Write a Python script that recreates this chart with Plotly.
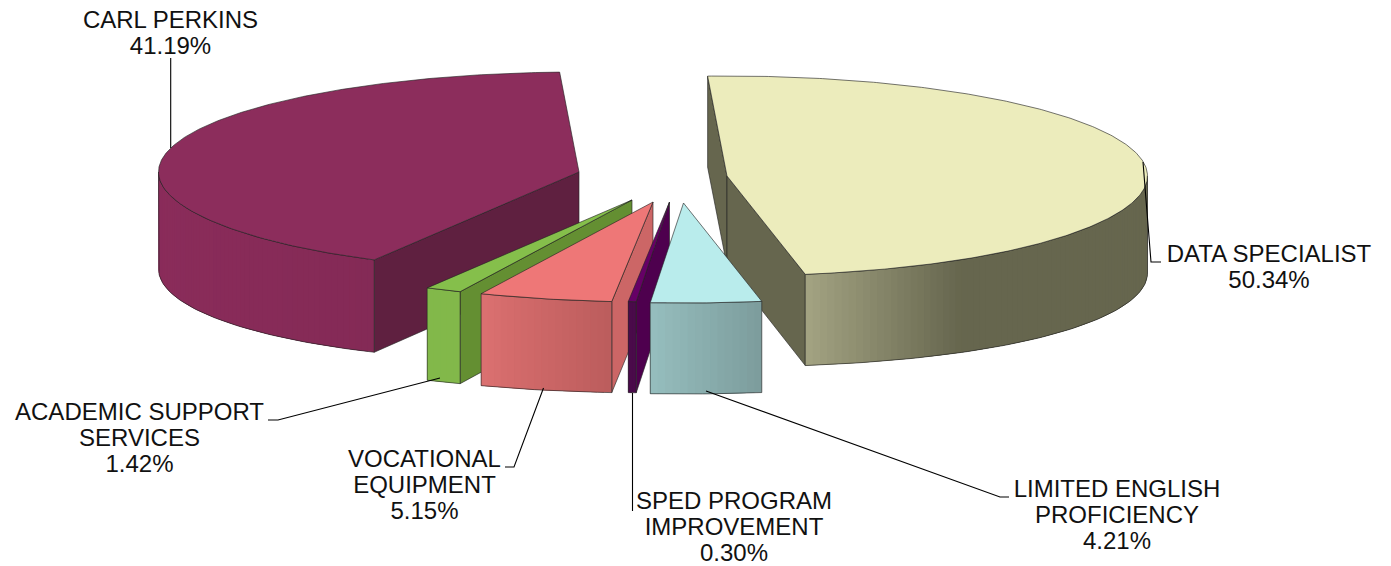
import math
import plotly.graph_objects as go

# ---- data (clockwise, starting at the far side of the pie) ----
names = ["DATA SPECIALIST", "LIMITED ENGLISH PROFICIENCY", "SPED PROGRAM IMPROVEMENT",
         "VOCATIONAL EQUIPMENT", "ACADEMIC SUPPORT SERVICES", "CARL PERKINS"]
values = [50.34, 4.21, 0.30, 5.15, 1.42, 41.19]
label_lines = [["DATA SPECIALIST"], ["LIMITED ENGLISH", "PROFICIENCY"], ["SPED PROGRAM", "IMPROVEMENT"],
               ["VOCATIONAL", "EQUIPMENT"], ["ACADEMIC SUPPORT", "SERVICES"], ["CARL PERKINS"]]

# ---- styling and layout of the exploded 3D pie ----
apex = [(727, 176), (683.5, 203), (669.5, 202), (653, 202), (632, 200), (579, 172)]
top_col = ["#ECECBC", "#B9ECEC", "#660066", "#EE7777", "#85BF4B", "#8C2D5C"]
cut_col = ["#66664E", "#7C9F9F", "#4E004E", "#CC6666", "#648F32", "#5F2040"]
side_left = ["#A3A382", "#96BEBE", "#4A0A4A", "#DB7070", "#82B84A", "#8A2C5A"]
side_right = ["#66664E", "#7C9C9C", "#4A0A4A", "#BB5C5C", "#82B84A", "#842A56"]
side_span = [(806, 960), None, None, None, None, None]
draw_order = [5, 0, 4, 3, 2, 1]
A, B = 420.5, 100
START = -7.0
EDGE = "rgba(35,35,35,0.7)"
FONT = dict(family="Liberation Sans, Arial, sans-serif", size=24, color="#111111")

label_pos = [(1269, 256), (1117, 491), (734, 503), (424.5, 461), (139.5, 414), (170.5, 22)]
LINE_H = 26.2
leaders = [[(1143, 162), (1151, 262), (1161, 262)],
           [(706, 391), (1000, 497), (1009, 497)],
           [(632.5, 393), (632.5, 511)],
           [(543.5, 388), (514, 467), (505, 467)],
           [(440, 378), (278, 420), (268, 420)],
           [(170.7, 148), (170.7, 58)]]

total = sum(values)
spans = []
a0 = START
for v in values:
    a1 = a0 + 360.0 * v / total
    spans.append((a0, a1))
    a0 = a1


def warp(t):
    return t + 4.7 * max(0.0, math.cos(math.radians(t))) ** 10


def rim(c, t):
    r = math.radians(warp(t))
    near = max(0.0, -math.cos(r)) ** 4
    return c[0] + A * math.sin(r) * (1 + 0.035 * near), c[1] - B * math.cos(r)


def depth(t):
    return 91 + 6 * math.sin(math.radians(t)) ** 2


def low(c, t):
    x, y = rim(c, t)
    return x, y + depth(t)


def hex_rgb(h):
    return [int(h[i:i + 2], 16) for i in (1, 3, 5)]


def mix(c1, c2, f):
    f = min(1.0, max(0.0, f))
    p, q = hex_rgb(c1), hex_rgb(c2)
    return "rgb(%d,%d,%d)" % tuple(round(p[i] + (q[i] - p[i]) * f) for i in range(3))


def poly(fig, pts, fill, line=EDGE, width=0.9):
    fig.add_trace(go.Scatter(x=[p[0] for p in pts] + [pts[0][0]], y=[p[1] for p in pts] + [pts[0][1]],
                             mode="lines", fill="toself", fillcolor=fill,
                             line=dict(color=line, width=width), hoverinfo="skip", showlegend=False))


def frange(a, b, step):
    n = max(1, int(math.ceil(abs(b - a) / step)))
    return [a + (b - a) * i / n for i in range(n + 1)]


fig = go.Figure()
for i in draw_order:
    c = apex[i]
    t0, t1 = spans[i]
    # cut faces
    if i == 0:
        for t in (t0, t1):
            p, q = rim(c, t), low(c, t)
            poly(fig, [c, p, q, (c[0], c[1] + 90)], cut_col[i])
    elif i in (2, 3, 4, 5):
        p, q = rim(c, t0), low(c, t0)
        poly(fig, [c, p, q, (c[0], c[1] + 90)], cut_col[i])
    # curved outer wall, only its part facing the viewer
    vis0, vis1 = max(t0, 90), min(t1, 270)
    ts = frange(vis0, vis1, 1.0)
    xs = [rim(c, t)[0] for t in ts]
    lo, hi = side_span[i] if side_span[i] else (min(xs), max(xs))
    # each strip reaches under the next one so no seams show between them
    for k in range(len(ts) - 1):
        u, v = ts[k], ts[k + 1]
        far = ts[min(k + 3, len(ts) - 1)]
        xm = 0.5 * (rim(c, u)[0] + rim(c, v)[0])
        col = mix(side_left[i], side_right[i], (xm - lo) / max(1e-6, hi - lo))
        body = frange(u, far, 1.0)
        pts = [rim(c, t) for t in body] + [low(c, t) for t in reversed(body)]
        fig.add_trace(go.Scatter(x=[p[0] for p in pts] + [pts[0][0]], y=[p[1] for p in pts] + [pts[0][1]],
                                 mode="lines", fill="toself", fillcolor=col, line=dict(width=0),
                                 hoverinfo="skip", showlegend=False))
    outline = [rim(c, t) for t in ts] + [low(c, t) for t in reversed(ts)]
    fig.add_trace(go.Scatter(x=[p[0] for p in outline] + [outline[0][0]], y=[p[1] for p in outline] + [outline[0][1]],
                             mode="lines", line=dict(color=EDGE, width=0.9), hoverinfo="skip", showlegend=False))
    # top face
    poly(fig, [c] + [rim(c, t) for t in frange(t0, t1, 0.5)], top_col[i])

# leader lines
for pts in leaders:
    fig.add_trace(go.Scatter(x=[p[0] for p in pts], y=[p[1] for p in pts], mode="lines",
                             line=dict(color="#000000", width=1.1), hoverinfo="skip", showlegend=False))

# labels
for i, v in enumerate(values):
    lines = label_lines[i] + ["%.2f%%" % v]
    fig.add_trace(go.Scatter(x=[label_pos[i][0]] * len(lines),
                             y=[label_pos[i][1] + k * LINE_H for k in range(len(lines))],
                             mode="text", text=lines, textposition="middle center", textfont=FONT,
                             cliponaxis=False, hoverinfo="skip", showlegend=False, name=names[i]))

fig.update_layout(width=1391, height=566, margin=dict(l=0, r=0, t=0, b=0),
                  paper_bgcolor="white", plot_bgcolor="white", showlegend=False,
                  xaxis=dict(range=[0, 1391], visible=False, fixedrange=True),
                  yaxis=dict(range=[566, 0], visible=False, fixedrange=True))
fig.write_html("out.html", config=dict(displayModeBar=False),
               post_script="document.body.style.margin='0';document.body.style.overflow='hidden';")
